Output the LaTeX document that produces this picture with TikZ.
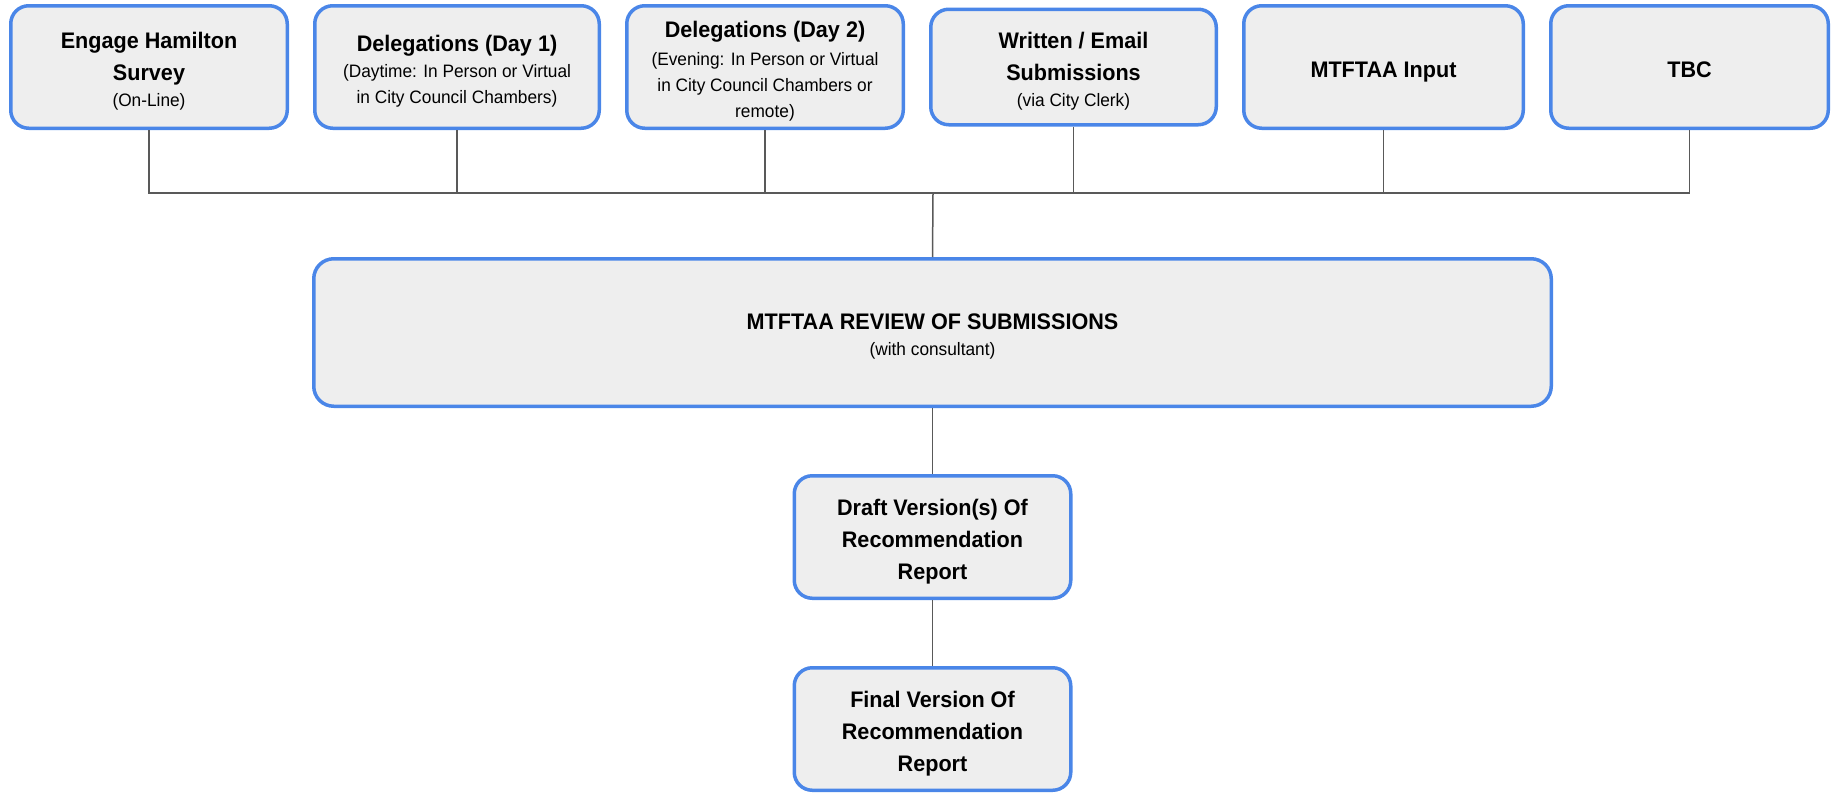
\documentclass[tikz,border=0pt]{standalone}
\usepackage{fontspec}
\setmainfont{Liberation Sans}[FakeStretch=0.96]
\usetikzlibrary{positioning}
\definecolor{boxblue}{HTML}{4A86E8}
\definecolor{boxgrey}{HTML}{EEEEEE}
\definecolor{linkgrey}{HTML}{595959}
\newcommand{\subtext}[1]{{\fontsize{9}{13}\selectfont\mdseries #1}}
% fixed line boxes, as the text sits in the reference
\newcommand{\hstrut}{\rule{0pt}{13pt}}
\newcommand{\dstrut}{\rule[-2.75pt]{0pt}{2.75pt}}

\begin{document}
\begin{tikzpicture}[
    x=0.5pt, y=0.5pt,
    node distance=12pt,
    box/.style={rectangle, draw=boxblue, fill=boxgrey, line width=1.75pt, rounded corners=9pt, minimum width=138.25pt, minimum height=61.25pt, align=center, inner sep=2pt, font=\fontsize{11.25}{13}\selectfont\bfseries},
    boldbox/.style={box, font=\fontsize{11.25}{16}\selectfont\bfseries},
    link/.style={draw=linkgrey, line width=0.75pt}
]
\useasboundingbox (0,0) rectangle (1835,-793);

% input channels
\node[box] (survey) at (149,-67) {\hstrut Engage Hamilton\\[3pt]Survey\\\subtext{(On-Line)\dstrut}};
\node[box, right=of survey, minimum width=142.25pt] (dayone) {\hstrut Delegations (Day 1)\\\subtext{(Daytime: In Person or Virtual}\\\subtext{in City Council Chambers)\dstrut}};
\node[box, right=of dayone] (daytwo) {\hstrut Delegations (Day 2)\\[1pt]\subtext{(Evening: In Person or Virtual}\\\subtext{in City Council Chambers or}\\\subtext{remote)\dstrut}};
\node[box, right=of daytwo, minimum width=142.75pt, minimum height=57.75pt] (written) {\hstrut Written / Email\\[3pt]Submissions\\\subtext{(via City Clerk)\dstrut}};
\node[box, right=of written, minimum width=139.75pt] (input) {\hstrut MTFTAA Input\dstrut};
\node[box, right=of input, minimum width=138.75pt] (tbc) {\hstrut TBC\dstrut};

% review and reports
\node[box, minimum width=618.75pt, minimum height=73.75pt, rounded corners=10pt] (review) at (932.5,-332.5) {\hstrut MTFTAA REVIEW OF SUBMISSIONS\\\subtext{(with consultant)\dstrut}};
\node[boldbox, below=33pt of review] (draft) {\hstrut Draft Version(s) Of\\Recommendation\\Report\dstrut};
\node[boldbox, below=33pt of draft] (final) {\hstrut Final Version Of\\Recommendation\\Report\dstrut};

\coordinate (bus) at (933,-193);
\foreach \n in {survey,dayone,daytwo,written,input,tbc}
    \draw[link] (\n.south) |- (bus);
\draw[link] (bus) -- (review.north);
\draw[link] (review.south) -- (draft.north);
\draw[link] (draft.south) -- (final.north);
\end{tikzpicture}
\end{document}
